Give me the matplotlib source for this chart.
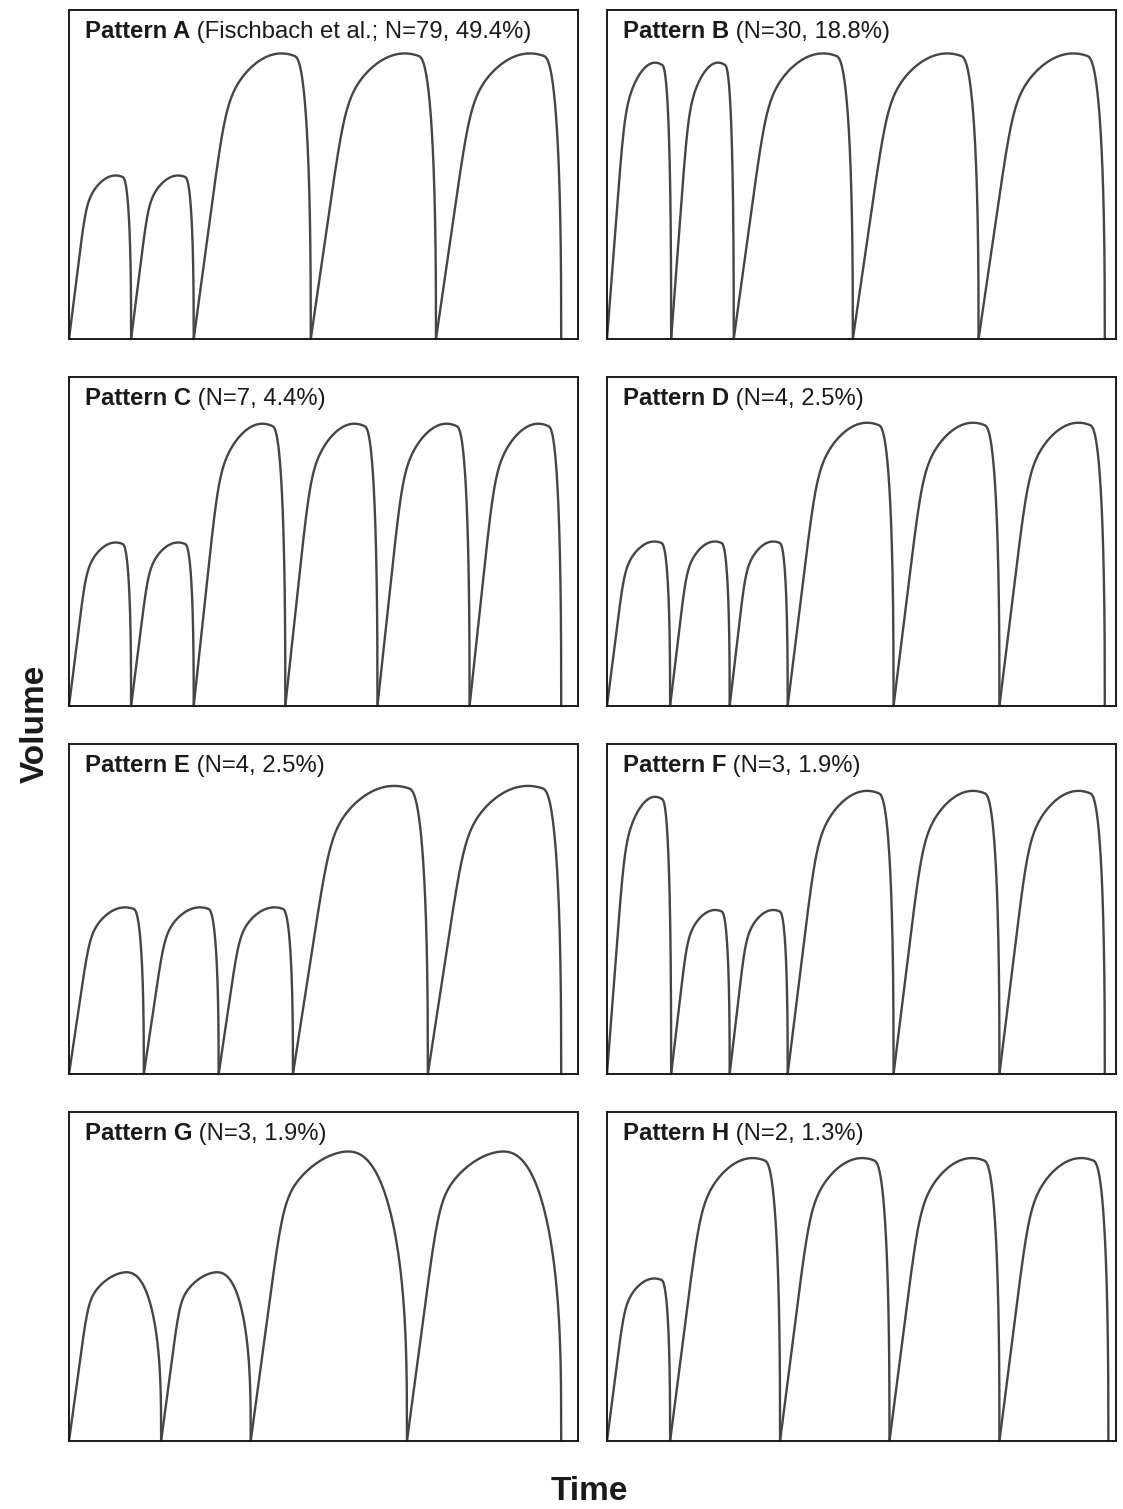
import matplotlib
matplotlib.use("Agg")
import matplotlib.pyplot as plt
import numpy as np

plt.rcParams['font.family'] = ['Liberation Sans', 'DejaVu Sans']

# panel labels
titles = ["Pattern A", "Pattern B", "Pattern C", "Pattern D",
          "Pattern E", "Pattern F", "Pattern G", "Pattern H"]
notes = ["(Fischbach et al.; N=79, 49.4%)", "(N=30, 18.8%)", "(N=7, 4.4%)",
         "(N=4, 2.5%)", "(N=4, 2.5%)", "(N=3, 1.9%)", "(N=3, 1.9%)",
         "(N=2, 1.3%)"]

# breath boundaries (fraction of panel time axis) and peak volumes
starts_ends = [
    [0, 0.122, 0.245, 0.475, 0.721, 0.967],
    [0, 0.126, 0.249, 0.483, 0.730, 0.978],
    [0, 0.122, 0.245, 0.425, 0.606, 0.787, 0.967],
    [0, 0.124, 0.241, 0.355, 0.563, 0.771, 0.978],
    [0, 0.147, 0.294, 0.440, 0.705, 0.967],
    [0, 0.126, 0.241, 0.355, 0.563, 0.771, 0.978],
    [0, 0.181, 0.357, 0.664, 0.967],
    [0, 0.124, 0.340, 0.555, 0.771, 0.985],
]
peaks = [
    [0.497, 0.497, 0.868, 0.868, 0.868],
    [0.840, 0.840, 0.868, 0.868, 0.868],
    [0.497, 0.497, 0.858, 0.858, 0.858, 0.858],
    [0.500, 0.500, 0.500, 0.861, 0.861, 0.861],
    [0.505, 0.505, 0.505, 0.873, 0.873],
    [0.840, 0.497, 0.497, 0.858, 0.858, 0.858],
    [0.513, 0.513, 0.880, 0.880],
    [0.494, 0.860, 0.860, 0.860, 0.860],
]
# Pattern G has slower, rounder expirations
rounded = [False] * 6 + [True, False]


def breath(u, round_shape):
    # schematic inspiration / expiration shape on 0..1
    if round_shape:
        uk, up, c, p = 0.22, 0.64, 0.58, 3.0
    else:
        uk, up, c, p = 0.29, 0.75, 0.86, 2.5
    q = 1 - (0.15 / (up - uk) ** 2) * (u - up) ** 2
    lin = 0.88 * u / uk
    n = 10
    r = (np.maximum(lin, 1e-9) ** -n + np.maximum(q, 1e-9) ** -n) ** (-1 / n)
    v = np.clip((u - c) / (1 - c), 0, 1)
    f = np.maximum(1 - v ** p, 0) ** (1 / p)
    y = r * f
    return y / y.max()


fig = plt.figure(figsize=(11.23, 15.09), dpi=100)
W, H = 1123, 1509
cols = [69, 607]
rows = [(10, 339), (377, 706), (744, 1074), (1112, 1441)]

for i in range(8):
    x0 = cols[i % 2]
    top, bot = rows[i // 2]
    ax = fig.add_axes([x0 / W, 1 - bot / H, 509 / W, (bot - top) / H])
    edges = starts_ends[i]
    for j in range(len(edges) - 1):
        u = np.linspace(0, 1, 800)
        t = edges[j] + u * (edges[j + 1] - edges[j])
        ax.plot(t, peaks[i][j] * breath(u, rounded[i]), color='#454545',
                lw=1.7, solid_capstyle='round', clip_on=False)
    ax.set_xlim(0, 1)
    ax.set_ylim(0, 1)
    ax.set_xticks([])
    ax.set_yticks([])
    for s in ax.spines.values():
        s.set_linewidth(1.4)
        s.set_color('#1a1a1a')
    t1 = ax.text(0.031, 0.915, titles[i], transform=ax.transAxes,
                 fontsize=17.2, fontweight='bold', color='#1a1a1a',
                 va='baseline', ha='left')
    ax.annotate(" " + notes[i], xy=(1, 0), xycoords=t1, fontsize=17.2,
                color='#1a1a1a', va='bottom', ha='left')

fig.text(0.031, 0.52, "Volume", rotation=90, fontsize=24, fontweight='bold',
         ha='center', va='center', color='#1a1a1a')
fig.text(0.525, 0.0113, "Time", fontsize=24, fontweight='bold',
         ha='center', va='center', color='#1a1a1a')

fig.savefig("out.png", dpi=100)
